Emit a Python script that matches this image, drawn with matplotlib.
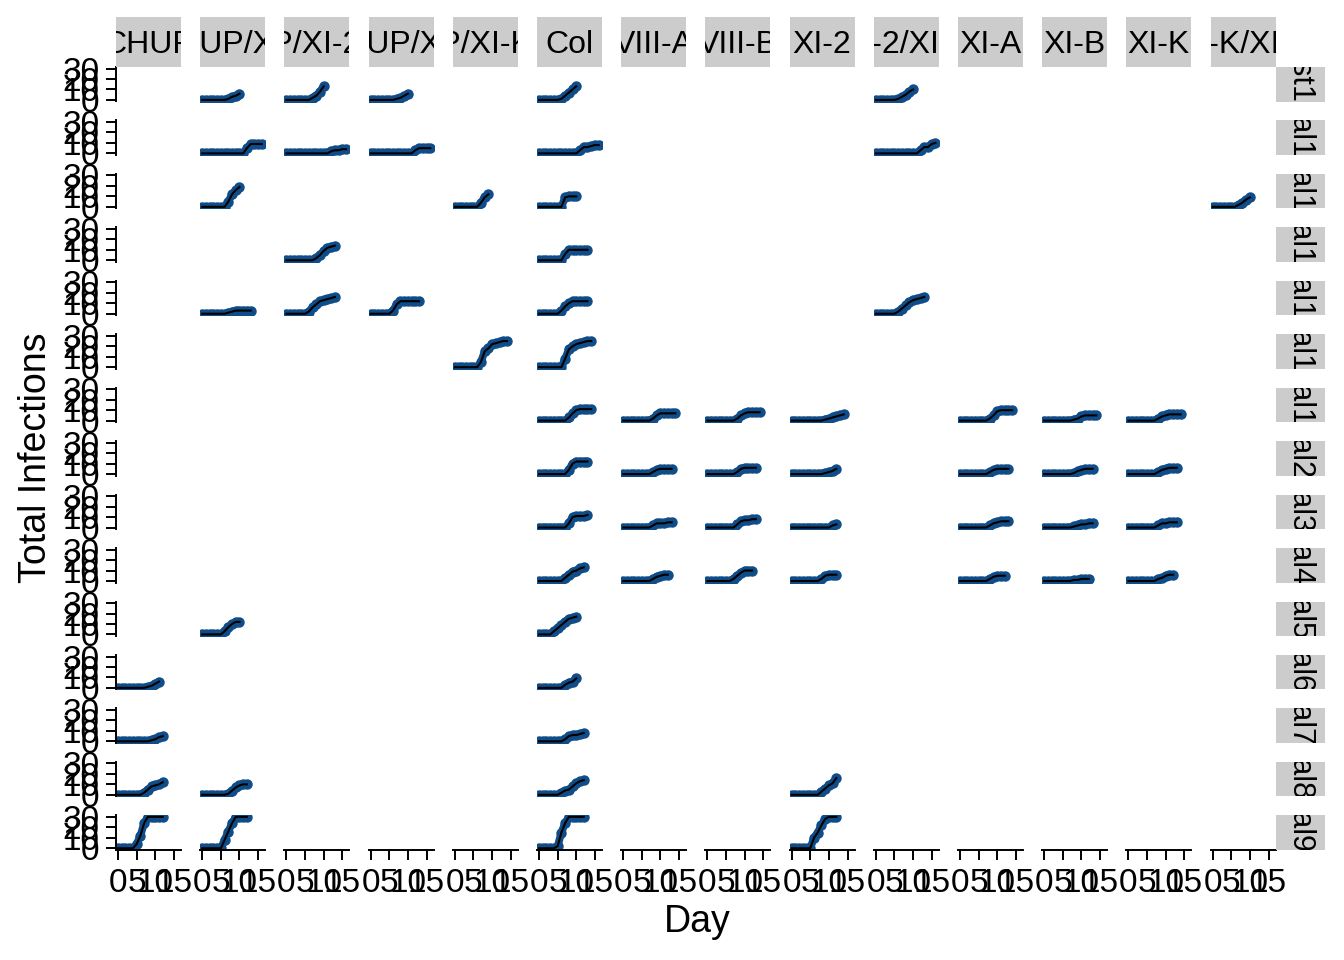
import matplotlib
matplotlib.use("Agg")
import matplotlib.pyplot as plt
from matplotlib.transforms import offset_copy

plt.rcParams["font.family"] = ["Liberation Sans", "DejaVu Sans"]

# ───── DATA ────────────────────────────────────────────────────
GENOTYPES = ["CHUP", "CHUP/XI-2", "CHUP/XI-2/XI-K", "CHUP/XI-K", "CHUP/XI-K/XI-2",
             "Col", "VIII-A", "VIII-B", "XI-2", "XI-2/XI-K", "XI-A", "XI-B", "XI-K",
             "XI-K/XI-2"]
TRIALS = ["Test14", "Trial10", "Trial11", "Trial12", "Trial13", "Trial14", "Trial1",
          "Trial2", "Trial3", "Trial4", "Trial5", "Trial6", "Trial7", "Trial8", "Trial9"]
X_TICKS = [0, 5, 10, 15]
Y_TICKS = [0, 10, 20, 30]

# total infections by day (day 0 onward), per trial and genotype
test14 = {
    "CHUP/XI-2": [0, 0, 0, 0, 0, 0, 0, 1, 3, 4, 6],
    "CHUP/XI-2/XI-K": [0, 0, 0, 0, 0, 0, 0, 2, 4, 8, 13],
    "CHUP/XI-K": [0, 0, 0, 0, 0, 0, 0, 1, 2, 4, 6],
    "Col": [0, 0, 0, 0, 0, 0, 1, 4, 7, 10, 13],
    "XI-2/XI-K": [0, 0, 0, 0, 0, 0, 1, 3, 5, 8, 10],
}
trial10 = {
    "CHUP/XI-2": [0, 0, 0, 0, 0, 0, 0, 0, 0, 0, 0, 0, 5, 9, 9, 9, 9],
    "CHUP/XI-2/XI-K": [0, 0, 0, 0, 0, 0, 0, 0, 0, 0, 0, 0, 2, 3, 3, 4, 4],
    "CHUP/XI-K": [0, 0, 0, 0, 0, 0, 0, 0, 0, 0, 0, 0, 3, 5, 5, 5, 5],
    "Col": [0, 0, 0, 0, 0, 0, 0, 0, 0, 0, 0, 3, 6, 6, 7, 8, 8],
    "XI-2/XI-K": [0, 0, 0, 0, 0, 0, 0, 0, 0, 0, 0, 0, 3, 6, 6, 9, 10],
}
trial11 = {
    "CHUP/XI-2": [0, 0, 0, 0, 0, 0, 0, 5, 12, 16, 19],
    "CHUP/XI-K/XI-2": [0, 0, 0, 0, 0, 0, 0, 4, 9, 12],
    "Col": [0, 0, 0, 0, 0, 0, 0, 9, 10, 10, 10],
    "XI-K/XI-2": [0, 0, 0, 0, 0, 0, 0, 2, 4, 7, 9],
}
trial12 = {
    "CHUP/XI-2/XI-K": [0, 0, 0, 0, 0, 0, 0, 0, 2, 5, 9, 12, 13, 14],
    "Col": [0, 0, 0, 0, 0, 0, 0, 6, 10, 10, 10, 10, 10, 10],
}
trial13 = {
    "CHUP/XI-2": [0, 0, 0, 0, 0, 0, 0, 1, 2, 3, 3, 3, 3, 3],
    "CHUP/XI-2/XI-K": [0, 0, 0, 0, 0, 0, 2, 6, 9, 12, 13, 14, 15, 16],
    "CHUP/XI-K": [0, 0, 0, 0, 0, 0, 3, 9, 12, 12, 12, 12, 12, 12],
    "Col": [0, 0, 0, 0, 0, 0, 3, 7, 10, 12, 12, 12, 12, 12],
    "XI-2/XI-K": [0, 0, 0, 0, 0, 0, 2, 5, 8, 11, 13, 14, 15, 16],
}
trial14 = {
    "CHUP/XI-K/XI-2": [0, 0, 0, 0, 0, 0, 0, 5, 15, 18, 22, 23, 24, 25, 25],
    "Col": [0, 0, 0, 0, 0, 0, 0, 8, 17, 20, 22, 23, 24, 25, 25],
}
trial1 = {
    "Col": [0, 0, 0, 0, 0, 0, 0, 0, 3, 7, 10, 11, 11, 11, 11],
    "VIII-A": [0, 0, 0, 0, 0, 0, 0, 0, 2, 5, 7, 7, 7, 7, 7],
    "VIII-B": [0, 0, 0, 0, 0, 0, 0, 0, 2, 5, 7, 8, 8, 8, 8],
    "XI-2": [0, 0, 0, 0, 0, 0, 0, 0, 0, 1, 2, 3, 4, 5, 6],
    "XI-A": [0, 0, 0, 0, 0, 0, 0, 0, 2, 5, 9, 10, 10, 10, 10],
    "XI-B": [0, 0, 0, 0, 0, 0, 0, 0, 1, 2, 4, 5, 5, 5, 5],
    "XI-K": [0, 0, 0, 0, 0, 0, 0, 0, 2, 4, 5, 6, 6, 6, 6],
}
trial2 = {
    "Col": [0, 0, 0, 0, 0, 0, 0, 0, 4, 10, 12, 12, 12, 12],
    "VIII-A": [0, 0, 0, 0, 0, 0, 0, 0, 2, 4, 5, 5, 5, 5],
    "VIII-B": [0, 0, 0, 0, 0, 0, 0, 0, 2, 5, 6, 6, 6, 6],
    "XI-2": [0, 0, 0, 0, 0, 0, 0, 0, 0, 1, 2, 3, 5],
    "XI-A": [0, 0, 0, 0, 0, 0, 0, 0, 2, 4, 5, 5, 5, 5],
    "XI-B": [0, 0, 0, 0, 0, 0, 0, 0, 1, 3, 4, 5, 5, 5],
    "XI-K": [0, 0, 0, 0, 0, 0, 0, 0, 2, 4, 5, 6, 6, 6],
}
trial3 = {
    "Col": [0, 0, 0, 0, 0, 0, 0, 0, 4, 10, 11, 11, 11, 12],
    "VIII-A": [0, 0, 0, 0, 0, 0, 0, 0, 2, 4, 4, 4, 5, 5],
    "VIII-B": [0, 0, 0, 0, 0, 0, 0, 0, 3, 6, 7, 7, 8, 8],
    "XI-2": [0, 0, 0, 0, 0, 0, 0, 0, 0, 0, 0, 2, 3],
    "XI-A": [0, 0, 0, 0, 0, 0, 0, 0, 2, 4, 5, 6, 6, 6],
    "XI-B": [0, 0, 0, 0, 0, 0, 0, 0, 1, 2, 3, 3, 4, 4],
    "XI-K": [0, 0, 0, 0, 0, 0, 0, 0, 2, 4, 4, 5, 5, 5],
}
trial4 = {
    "Col": [0, 0, 0, 0, 0, 0, 0, 3, 6, 9, 10, 12, 13],
    "VIII-A": [0, 0, 0, 0, 0, 0, 0, 0, 2, 4, 5, 6, 6],
    "VIII-B": [0, 0, 0, 0, 0, 0, 0, 2, 5, 8, 10, 10, 10],
    "XI-2": [0, 0, 0, 0, 0, 0, 0, 0, 2, 5, 6, 6, 6],
    "XI-A": [0, 0, 0, 0, 0, 0, 0, 0, 2, 4, 5, 5, 5],
    "XI-B": [0, 0, 0, 0, 0, 0, 0, 0, 1, 1, 2, 2, 2],
    "XI-K": [0, 0, 0, 0, 0, 0, 0, 0, 2, 3, 5, 6, 6],
}
trial5 = {
    "CHUP/XI-2": [0, 0, 0, 0, 0, 0, 3, 7, 10, 12, 12],
    "Col": [0, 0, 0, 0, 3, 6, 9, 12, 15, 16, 17],
}
trial6 = {
    "CHUP": [0, 0, 0, 0, 0, 0, 0, 0, 1, 2, 4, 6],
    "Col": [0, 0, 0, 0, 0, 0, 0, 3, 5, 6, 9],
}
trial7 = {
    "CHUP": [0, 0, 0, 0, 0, 0, 0, 0, 0, 1, 2, 4, 5],
    "Col": [0, 0, 0, 0, 0, 0, 0, 2, 5, 6, 6, 7, 8],
}
trial8 = {
    "CHUP": [0, 0, 0, 0, 0, 0, 0, 2, 5, 8, 9, 10, 12],
    "CHUP/XI-2": [0, 0, 0, 0, 0, 0, 0, 1, 4, 7, 9, 10, 10],
    "Col": [0, 0, 0, 0, 0, 0, 2, 4, 5, 8, 11, 13, 14],
    "XI-2": [0, 0, 0, 0, 0, 0, 0, 0, 3, 6, 9, 11, 16],
}
trial9 = {
    "CHUP": [0, 0, 0, 0, 0, 4, 12, 24, 30, 30, 30, 30, 30],
    "CHUP/XI-2": [0, 0, 0, 0, 0, 0, 8, 16, 24, 30, 30, 30, 30],
    "Col": [0, 0, 0, 0, 0, 2, 15, 24, 30, 30, 30, 30, 30],
    "XI-2": [0, 0, 0, 0, 0, 0, 10, 15, 22, 28, 30, 30, 30],
}
TRIAL_DATA = [test14, trial10, trial11, trial12, trial13, trial14, trial1, trial2,
              trial3, trial4, trial5, trial6, trial7, trial8, trial9]
# ───────────────────────────────────────────────────────────────

W, H = 1344, 960
BLUE = "#0F4C88"
STRIP = "#CCCCCC"
COL_X0, COL_STEP, PANEL_W = 116, 84.2, 65
ROW_Y0, ROW_STEP, PANEL_H = 67, 53.45, 34.5


def fig_rect(x, y, w, h):
    return [x / W, 1 - (y + h) / H, w / W, h / H]


fig = plt.figure(figsize=(W / 100, H / 100), dpi=100)

for r, trial in enumerate(TRIALS):
    top = ROW_Y0 + ROW_STEP * r
    for c, geno in enumerate(GENOTYPES):
        left = COL_X0 + COL_STEP * c
        ax = fig.add_axes(fig_rect(left, top, PANEL_W, PANEL_H))
        ax.set_xlim(-0.55, 16.9)
        ax.set_ylim(-1.5, 31.5)
        for s in ax.spines.values():
            s.set_visible(False)
        ax.tick_params(width=1.4, length=7, labelsize=24, color="black")
        vals = TRIAL_DATA[r].get(geno)
        if vals:
            days = list(range(len(vals)))
            ax.plot(days, vals, color=BLUE, lw=5.5, marker="o", ms=6.5,
                    solid_capstyle="round", solid_joinstyle="round")
            ax.plot(days, vals, color="black", lw=1.5)
        if c == 0:
            ax.spines["left"].set_visible(True)
            ax.spines["left"].set_linewidth(1.4)
            ax.set_yticks(Y_TICKS)
            ax.tick_params(axis="y", pad=5)
        else:
            ax.set_yticks([])
        if r == len(TRIALS) - 1:
            ax.spines["bottom"].set_visible(True)
            ax.spines["bottom"].set_linewidth(1.4)
            ax.set_xticks(X_TICKS)
            ax.tick_params(axis="x", pad=6)
        else:
            ax.set_xticks([])

# column strips
for c, geno in enumerate(GENOTYPES):
    sax = fig.add_axes(fig_rect(COL_X0 + COL_STEP * c, 17, PANEL_W, 50))
    sax.set_facecolor(STRIP)
    sax.set_xticks([])
    sax.set_yticks([])
    for s in sax.spines.values():
        s.set_visible(False)
    sax.text(0.5, 0.44, geno, ha="center", va="center", fontsize=23,
             transform=sax.transAxes, clip_on=True)

# row strips
for r, trial in enumerate(TRIALS):
    sax = fig.add_axes(fig_rect(1276, ROW_Y0 + ROW_STEP * r, 49, PANEL_H))
    sax.set_facecolor(STRIP)
    sax.set_xticks([])
    sax.set_yticks([])
    for s in sax.spines.values():
        s.set_visible(False)
    tr = offset_copy(sax.transAxes, fig=fig, y=38, units="dots")
    sax.text(0.5, 1.0, trial, ha="center", va="top", rotation=270, fontsize=22,
             transform=tr, clip_on=True)

fig.text(697 / W, 1 - 922 / H, "Day", ha="center", va="center", fontsize=27)
fig.text(36 / W, 1 - 458 / H, "Total Infections", ha="center", va="center",
         rotation=90, fontsize=27)

fig.savefig("out.png", dpi=100)
